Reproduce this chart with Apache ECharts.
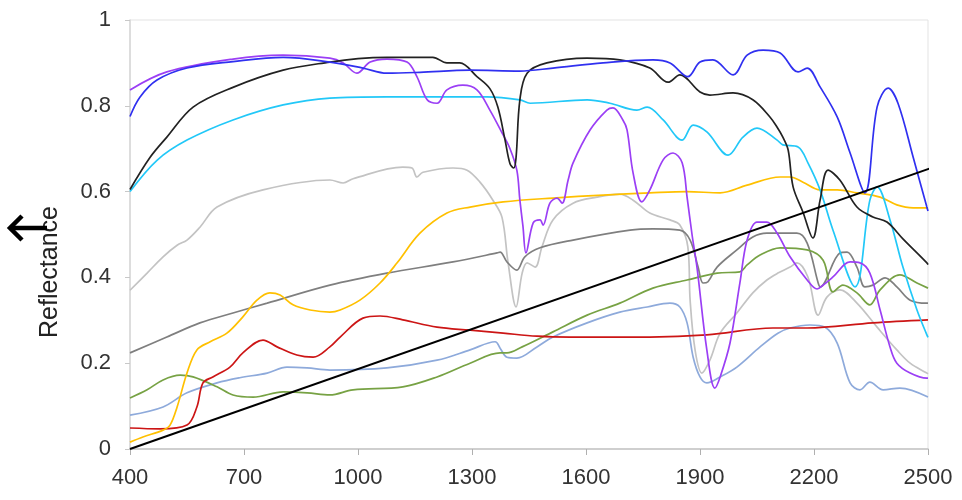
<!DOCTYPE html>
<html>
<head>
<meta charset="utf-8">
<script src="https://cdn.jsdelivr.net/npm/echarts@6/dist/echarts.min.js"></script>
<style>html,body{margin:0;padding:0;background:#fff;}#c{width:962px;height:500px;}</style>
</head>
<body>
<div id="c"></div>
<script>
const wavelengthTicks = [400, 700, 1000, 1300, 1600, 1900, 2200, 2500];
const reflectanceTicks = [0, 0.2, 0.4, 0.6, 0.8, 1];
const yTitle = 'Reflectance';

const blue = [[400,0.775],[426,0.82],[471,0.86],[550,0.888],[671,0.903],[803,0.913],[926,0.902],[1013,0.888],[1076,0.876],[1163,0.878],[1295,0.883],[1426,0.881],[1513,0.888],[1645,0.9],[1776,0.907],[1821,0.9],[1868,0.868],[1900,0.902],[1934,0.907],[1987,0.872],[2024,0.918],[2066,0.93],[2111,0.923],[2158,0.879],[2182,0.888],[2216,0.844],[2261,0.774],[2295,0.69],[2334,0.597],[2366,0.797],[2395,0.841],[2421,0.806],[2461,0.68],[2497,0.564],[2500,0.555]];
const black = [[400,0.605],[453,0.68],[497,0.727],[566,0.797],[671,0.843],[803,0.883],[926,0.902],[1000,0.91],[1076,0.913],[1197,0.913],[1234,0.9],[1268,0.9],[1313,0.868],[1347,0.84],[1368,0.797],[1387,0.72],[1400,0.665],[1410,0.655],[1416,0.68],[1426,0.814],[1445,0.876],[1497,0.9],[1603,0.911],[1689,0.907],[1768,0.888],[1816,0.855],[1847,0.872],[1900,0.832],[1926,0.825],[1987,0.83],[2039,0.814],[2084,0.774],[2103,0.75],[2118,0.727],[2132,0.697],[2145,0.611],[2171,0.552],[2197,0.492],[2216,0.58],[2237,0.65],[2268,0.627],[2313,0.564],[2355,0.541],[2392,0.529],[2434,0.49],[2497,0.434],[2500,0.43]];
const cyan = [[400,0.6],[471,0.673],[550,0.72],[671,0.767],[803,0.802],[926,0.818],[1076,0.821],[1339,0.821],[1426,0.814],[1453,0.806],[1603,0.814],[1663,0.806],[1734,0.79],[1761,0.797],[1803,0.767],[1853,0.72],[1882,0.755],[1918,0.739],[1974,0.685],[2013,0.727],[2050,0.748],[2103,0.72],[2118,0.709],[2158,0.704],[2184,0.667],[2216,0.604],[2250,0.51],[2308,0.378],[2347,0.58],[2366,0.611],[2400,0.534],[2434,0.424],[2471,0.324],[2497,0.266],[2500,0.26]];
const purple = [[400,0.837],[497,0.879],[671,0.909],[803,0.918],[926,0.911],[961,0.9],[997,0.876],[1032,0.902],[1076,0.909],[1129,0.902],[1155,0.868],[1182,0.814],[1208,0.806],[1234,0.837],[1276,0.848],[1313,0.837],[1347,0.79],[1379,0.737],[1400,0.7],[1418,0.65],[1426,0.58],[1434,0.52],[1442,0.457],[1461,0.527],[1479,0.534],[1487,0.522],[1505,0.573],[1524,0.585],[1537,0.573],[1553,0.627],[1566,0.667],[1611,0.744],[1655,0.79],[1671,0.795],[1697,0.767],[1708,0.744],[1724,0.643],[1747,0.576],[1768,0.604],[1803,0.674],[1829,0.69],[1853,0.667],[1866,0.587],[1879,0.5],[1892,0.424],[1918,0.231],[1939,0.142],[1953,0.168],[1979,0.247],[2005,0.387],[2024,0.487],[2050,0.529],[2076,0.529],[2103,0.503],[2137,0.448],[2182,0.394],[2208,0.373],[2224,0.382],[2250,0.401],[2295,0.436],[2321,0.434],[2347,0.41],[2374,0.324],[2400,0.238],[2418,0.2],[2453,0.177],[2497,0.165],[2500,0.165]];
const lightGray = [[400,0.37],[445,0.41],[487,0.448],[524,0.475],[550,0.487],[584,0.517],[629,0.564],[750,0.604],[926,0.627],[961,0.62],[987,0.63],[1118,0.657],[1142,0.655],[1155,0.634],[1171,0.645],[1250,0.655],[1287,0.65],[1321,0.622],[1355,0.58],[1379,0.54],[1395,0.434],[1416,0.331],[1432,0.41],[1445,0.434],[1466,0.424],[1484,0.471],[1513,0.534],[1566,0.573],[1629,0.587],[1689,0.594],[1724,0.58],[1768,0.55],[1821,0.534],[1847,0.522],[1868,0.471],[1874,0.347],[1887,0.231],[1905,0.177],[1926,0.207],[1953,0.27],[1997,0.317],[2039,0.364],[2076,0.394],[2105,0.41],[2137,0.424],[2155,0.434],[2184,0.401],[2211,0.312],[2234,0.354],[2268,0.371],[2313,0.34],[2366,0.284],[2418,0.231],[2453,0.2],[2497,0.177],[2500,0.175]];
const darkGray = [[400,0.224],[497,0.261],[584,0.294],[671,0.317],[761,0.34],[926,0.382],[1076,0.41],[1250,0.436],[1366,0.457],[1374,0.459],[1392,0.436],[1418,0.417],[1439,0.448],[1479,0.469],[1566,0.487],[1716,0.51],[1776,0.513],[1847,0.51],[1874,0.487],[1895,0.424],[1908,0.387],[1921,0.39],[1945,0.424],[1997,0.464],[2039,0.494],[2076,0.503],[2155,0.503],[2182,0.48],[2211,0.387],[2216,0.378],[2268,0.457],[2287,0.459],[2313,0.424],[2334,0.378],[2355,0.382],[2387,0.399],[2418,0.378],[2453,0.347],[2497,0.34],[2500,0.34]];
const orange = [[400,0.016],[434,0.028],[487,0.044],[505,0.055],[524,0.098],[550,0.177],[576,0.231],[611,0.25],[655,0.27],[697,0.308],[734,0.347],[768,0.364],[795,0.359],[829,0.336],[874,0.324],[926,0.319],[953,0.324],[1005,0.347],[1058,0.387],[1103,0.434],[1163,0.503],[1234,0.55],[1295,0.564],[1382,0.576],[1513,0.585],[1645,0.592],[1768,0.597],[1866,0.6],[1953,0.597],[2024,0.615],[2111,0.634],[2137,0.634],[2171,0.622],[2216,0.604],[2261,0.604],[2313,0.597],[2374,0.587],[2418,0.569],[2461,0.562],[2500,0.562]];
const green = [[400,0.119],[445,0.138],[487,0.161],[532,0.172],[566,0.168],[629,0.145],[671,0.126],[724,0.121],[803,0.133],[866,0.131],[926,0.126],[987,0.138],[1118,0.145],[1208,0.168],[1295,0.2],[1374,0.224],[1392,0.224],[1432,0.238],[1513,0.273],[1603,0.312],[1689,0.34],[1776,0.375],[1866,0.394],[1945,0.41],[2005,0.413],[2024,0.429],[2058,0.452],[2111,0.469],[2182,0.464],[2224,0.44],[2250,0.366],[2276,0.382],[2313,0.364],[2347,0.336],[2374,0.371],[2426,0.406],[2471,0.387],[2500,0.375]];
const red = [[400,0.049],[479,0.047],[550,0.056],[576,0.098],[592,0.154],[618,0.168],[663,0.191],[697,0.224],[750,0.254],[787,0.238],[839,0.219],[882,0.214],[926,0.238],[953,0.261],[1013,0.305],[1058,0.31],[1118,0.301],[1208,0.284],[1295,0.277],[1382,0.27],[1471,0.263],[1558,0.261],[1768,0.261],[1918,0.266],[2092,0.282],[2182,0.282],[2355,0.294],[2500,0.301]];
const lightBlue = [[400,0.079],[487,0.098],[550,0.131],[629,0.154],[689,0.166],[761,0.177],[813,0.191],[866,0.189],[926,0.184],[1076,0.189],[1208,0.207],[1295,0.231],[1361,0.25],[1374,0.235],[1392,0.214],[1418,0.212],[1471,0.238],[1513,0.261],[1603,0.294],[1689,0.319],[1761,0.331],[1821,0.34],[1847,0.331],[1866,0.294],[1882,0.214],[1900,0.168],[1918,0.154],[1953,0.168],[1997,0.191],[2058,0.238],[2105,0.27],[2137,0.282],[2189,0.289],[2229,0.284],[2261,0.247],[2295,0.154],[2321,0.138],[2347,0.156],[2382,0.138],[2426,0.142],[2500,0.121]];
const diagonalLine = [[400,0],[2589,0.68]];
const cornerStroke = [[2508,0],[2589,0.121]];

const spectra = [
  {data: lightGray, color: '#c3c3c3'},
  {data: darkGray, color: '#7f7f7f'},
  {data: lightBlue, color: '#8eaadb'},
  {data: green, color: '#77a244'},
  {data: red, color: '#cc1515'},
  {data: orange, color: '#ffc000'},
  {data: cyan, color: '#22c8f8'},
  {data: purple, color: '#9b3ff5'},
  {data: black, color: '#222222'},
  {data: blue, color: '#3030f0'}
];

const chart = echarts.init(document.getElementById('c'), null, {renderer: 'canvas'});
const series = spectra.map(s => ({
  type: 'line', data: s.data, showSymbol: false, smooth: 0.35,
  lineStyle: {color: s.color, width: 1.7}, clip: true, silent: true
}));
series.push({type: 'line', data: diagonalLine, showSymbol: false, clip: false, silent: true, z: 5,
  lineStyle: {color: '#000', width: 2}});
series.push({type: 'line', data: cornerStroke, showSymbol: false, clip: false, silent: true, z: 5,
  lineStyle: {color: '#000', width: 1.6}});

const labelFont = 'Liberation Sans, Arial, sans-serif';
chart.setOption({
  animation: false,
  backgroundColor: '#fff',
  grid: {left: 130, right: 34, top: 20, bottom: 51, show: true, borderColor: '#e3e3e3', borderWidth: 1},
  xAxis: {
    type: 'value', min: 400, max: 2500,
    axisLine: {show: true, lineStyle: {color: '#c4c4c4', width: 1.5}},
    axisTick: {show: true, length: 6, lineStyle: {color: '#b0b0b0'}, customValues: wavelengthTicks},
    axisLabel: {customValues: wavelengthTicks, margin: 18, fontSize: 22, color: '#333', fontFamily: labelFont,
      formatter: v => String(v)},
    splitLine: {show: false}
  },
  yAxis: {
    type: 'value', min: 0, max: 1, interval: 0.2,
    axisLine: {show: true, lineStyle: {color: '#d6d6d6', width: 1.5}},
    axisTick: {show: true, length: 5, lineStyle: {color: '#c8c8c8'}, customValues: reflectanceTicks},
    axisLabel: {customValues: reflectanceTicks, margin: 19, fontSize: 22, color: '#333', fontFamily: labelFont,
      formatter: v => String(Math.round(v * 10) / 10)},
    splitLine: {show: false}
  },
  graphic: [
    {type: 'text', x: 50, y: 272, rotation: Math.PI / 2,
      style: {text: yTitle, fontSize: 25, fill: '#222', fontFamily: labelFont, align: 'center', verticalAlign: 'middle'}},
    {type: 'polyline', shape: {points: [[12, 228], [47, 228]]}, style: {stroke: '#000', lineWidth: 4.5, fill: null}},
    {type: 'polyline', shape: {points: [[22, 216], [10, 228], [22, 240]]}, style: {stroke: '#000', lineWidth: 4.5, fill: null, lineJoin: 'miter'}}
  ],
  series: series
});
</script>
</body>
</html>
